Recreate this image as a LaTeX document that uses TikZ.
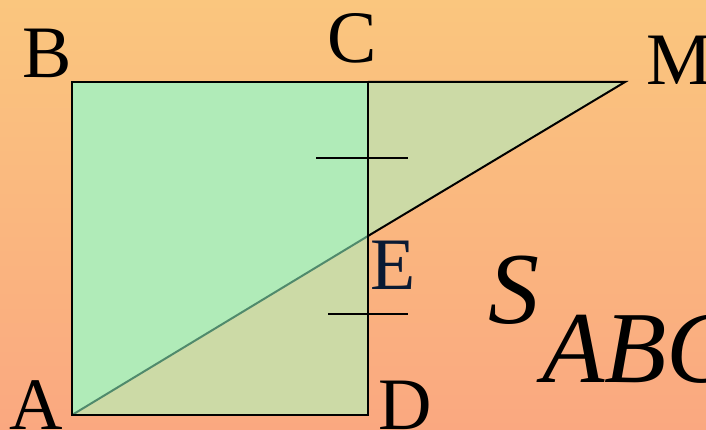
\documentclass[tikz,border=0pt]{standalone}
\usepackage{fontspec}
\setmainfont{Liberation Serif}
\definecolor{bgtop}{RGB}{250,198,126}
\definecolor{bgbot}{RGB}{250,168,128}
\definecolor{sqgreen}{RGB}{176,235,184}
\definecolor{khaki}{RGB}{204,218,166}
\definecolor{aeline}{RGB}{80,138,108}
\definecolor{enavy}{RGB}{10,26,51}
\tikzset{
  lbl/.style={anchor=base west, inner sep=0pt, font=\fontsize{74}{74}\selectfont},
  big/.style={anchor=base west, inner sep=0pt, font=\fontsize{102}{102}\selectfont\itshape},
  edge/.style={line width=2pt, black},
  tick/.style={line width=2pt, black}
}
\begin{document}
\begin{tikzpicture}[x=1pt,y=-1pt]
\useasboundingbox (0,0) rectangle (706,430);
\shade[top color=bgtop, bottom color=bgbot] (0,0) rectangle (706,430);
\coordinate (A) at (72,415);
\coordinate (B) at (72,82);
\coordinate (C) at (368,82);
\coordinate (D) at (368,415);
\coordinate (M) at (625,82);
\coordinate (E) at (368,236);
\fill[sqgreen] (A) -- (B) -- (C) -- (D) -- cycle;
\fill[khaki] (A) -- (D) -- (E) -- cycle;
\fill[khaki] (E) -- (C) -- (M) -- cycle;
\draw[line width=2pt, aeline] (A) -- (E);
\draw[edge] (E) -- (M) -- (C);
\draw[edge] (A) -- (B) -- (C) -- (D) -- cycle;
\coordinate (t1a) at (316,158);
\coordinate (t1b) at (408,158);
\coordinate (t2a) at (328,314);
\coordinate (t2b) at (408,314);
\draw[tick] (t1a) -- (t1b);
\draw[tick] (t2a) -- (t2b);
\node[lbl] (lB) at (22,78) {B};
\node[lbl] (lC) at (327,63) {C};
\node[lbl] (lM) at (646,85) {M};
\node[lbl, text=enavy] (lE) at (370,289) {E};
\node[lbl] (lA) at (9,429) {A};
\node[lbl] (lD) at (378,429) {D};
\node[big] (lS) at (488,323) {S};
\node[big] (lABC) at (542,382) {ABC};
\end{tikzpicture}
\end{document}
